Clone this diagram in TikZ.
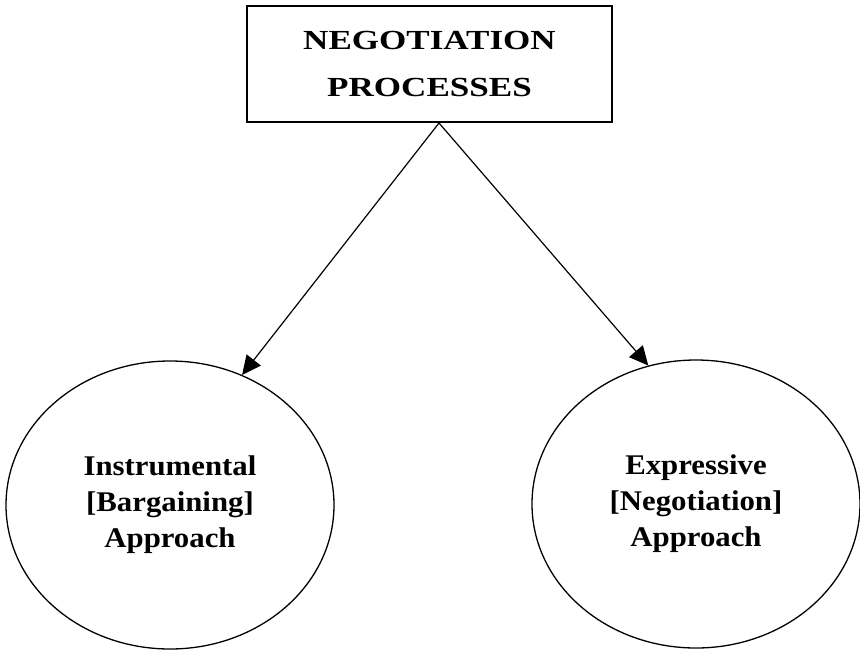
\documentclass[tikz,border=0pt]{standalone}
\usepackage{fontspec}
\setmainfont{Liberation Serif}
\newfontfamily\headfont[FakeStretch=1.27]{Liberation Serif}
\newfontfamily\bodyfont[FakeStretch=1.08]{Liberation Serif}
\usepackage{tikz}
\usetikzlibrary{arrows.meta,shapes.geometric}

\begin{document}
\begin{tikzpicture}[x=1pt, y=-1pt,
		headbox/.style={draw, line width=1.5pt, minimum width=365pt, minimum height=116pt, inner sep=0pt, align=center, font=\headfont\bfseries\fontsize{27.6}{47}\selectfont},
		approach/.style={draw, ellipse, line width=1.3pt, minimum width=328pt, minimum height=288pt, inner sep=0pt, align=center, font=\bodyfont\bfseries\fontsize{28.5}{36}\selectfont},
		link/.style={line width=1.2pt, -{Triangle[length=19pt, width=18pt]}}]
				\useasboundingbox (0, 0) rectangle (860, 649);
				\node[headbox] (nego) at (429.5, 64) {NEGOTIATION\\PROCESSES};
				\node[approach] (instr) at (170, 505) {Instrumental\\{[}Bargaining{]}\\Approach};
				\node[approach] (expr) at (696, 504) {Expressive\\{[}Negotiation{]}\\Approach};
				\coordinate (apex) at (439, 123);
				\draw[link] (apex) -- (instr.61);
				\draw[link] (apex) -- (expr.109);
			\end{tikzpicture}
\end{document}
